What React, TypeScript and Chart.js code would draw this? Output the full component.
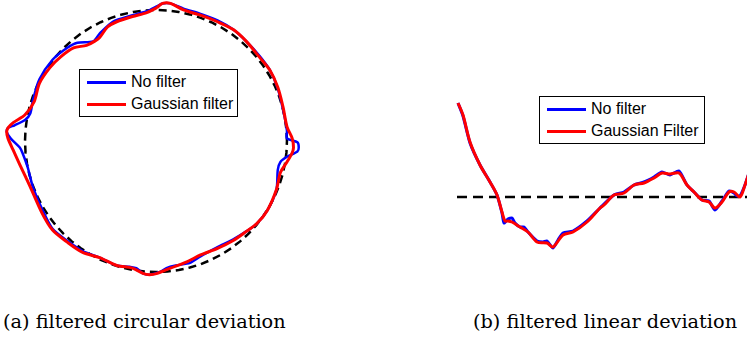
import React, { useEffect, useRef } from "react";
import { Chart, registerables } from "chart.js";

Chart.register(...registerables);

// ---------- Panel (a): circular deviation (normalised units, nominal radius = 1) ----------
const noFilterCircX = [0.01, 0.05, 0.11, 0.21, 0.34, 0.47, 0.59, 0.69, 0.79, 0.87, 0.93, 0.97, 1.0, 1.0, 1.08, 1.09, 1.08, 1.0, 0.95, 0.93, 0.92, 0.85, 0.77, 0.69, 0.59, 0.47, 0.34, 0.26, 0.15, 0.08, 0.03, -0.05, -0.1, -0.15, -0.2, -0.3, -0.43, -0.56, -0.68, -0.79, -0.86, -0.94, -0.98, -1.02, -1.04, -1.11, -1.14, -1.13, -1.08, -1.0, -0.96, -0.94, -0.89, -0.79, -0.68, -0.6, -0.48, -0.43, -0.33, -0.18, -0.07, 0.01];
const noFilterCircY = [1.03, 1.05, 1.05, 1.01, 0.97, 0.92, 0.85, 0.76, 0.65, 0.54, 0.4, 0.24, 0.08, 0.02, -0.01, -0.05, -0.08, -0.12, -0.16, -0.22, -0.37, -0.53, -0.63, -0.69, -0.75, -0.81, -0.88, -0.93, -0.95, -0.97, -1.0, -1.02, -1.01, -0.97, -0.96, -0.95, -0.89, -0.84, -0.76, -0.67, -0.54, -0.35, -0.2, -0.09, -0.05, 0.02, 0.07, 0.1, 0.12, 0.16, 0.21, 0.31, 0.47, 0.62, 0.71, 0.75, 0.76, 0.82, 0.91, 0.96, 0.99, 1.03];

const gaussCircX = [0.01, 0.05, 0.11, 0.21, 0.34, 0.47, 0.59, 0.69, 0.79, 0.87, 0.93, 0.97, 1.0, 1.04, 1.05, 1.04, 1.0, 0.95, 0.92, 0.85, 0.77, 0.69, 0.59, 0.47, 0.34, 0.24, 0.11, 0.01, -0.05, -0.1, -0.18, -0.3, -0.43, -0.56, -0.68, -0.79, -0.87, -0.96, -1.04, -1.09, -1.13, -1.14, -1.13, -1.09, -1.0, -0.93, -0.89, -0.81, -0.73, -0.63, -0.53, -0.47, -0.43, -0.37, -0.3, -0.18, -0.07, 0.01];
const gaussCircY = [1.02, 1.05, 1.05, 1.0, 0.96, 0.91, 0.85, 0.76, 0.64, 0.54, 0.41, 0.26, 0.11, 0.02, -0.05, -0.09, -0.16, -0.24, -0.37, -0.53, -0.63, -0.69, -0.76, -0.82, -0.87, -0.92, -0.97, -1.01, -1.02, -1.01, -0.97, -0.95, -0.89, -0.85, -0.77, -0.68, -0.55, -0.35, -0.18, -0.07, 0.02, 0.07, 0.1, 0.14, 0.2, 0.3, 0.44, 0.56, 0.64, 0.71, 0.73, 0.76, 0.79, 0.87, 0.91, 0.95, 0.98, 1.02];

const nominalRadius = 1;
const referenceAnglesDeg = Array.from({ length: 73 }, (_, i) => i * 5);

// ---------- Panel (b): linear deviation ----------
const noFilterLinX = [0, 5, 12, 22, 32, 39, 44, 46, 50, 54, 57, 62, 66, 70, 79, 85, 89, 95, 100, 105, 115, 129, 142, 156, 166, 176, 186, 196, 204, 212, 221, 229, 236, 244, 251, 257, 264, 271, 276, 279, 282, 287, 292];
const noFilterLinY = [9.4, 8.1, 5.4, 3.2, 1.5, 0.2, -1.6, -2.6, -2.2, -2.1, -2.6, -3.0, -3.0, -3.5, -4.4, -4.5, -4.4, -5.1, -4.3, -3.6, -3.4, -2.4, -1.1, 0.2, 0.5, 1.2, 1.5, 2.0, 2.5, 2.2, 2.6, 1.2, 0.5, -0.3, -0.4, -1.3, -0.4, 0.6, 0.4, 0.1, 0.1, 1.2, 2.7];

const gaussLinX = [0, 5, 12, 22, 32, 39, 44, 47, 50, 54, 62, 70, 79, 89, 95, 105, 115, 129, 142, 146, 156, 166, 176, 186, 196, 204, 212, 221, 229, 236, 244, 251, 257, 264, 271, 276, 282, 287, 292];
const gaussLinY = [9.4, 8.2, 5.5, 3.2, 1.5, 0.2, -1.5, -2.4, -2.4, -2.5, -3.0, -3.5, -4.5, -4.6, -5.0, -3.8, -3.5, -2.5, -1.1, -0.8, 0.2, 0.4, 1.2, 1.4, 1.9, 2.4, 2.3, 2.4, 1.2, 0.5, -0.3, -0.5, -1.1, -0.5, 0.5, 0.5, 0.0, 1.2, 2.7];

const referenceLevel = 0;
const referenceLineX = [-1, 300];

const legendA = ["No filter", "Gaussian filter"];
const legendB = ["No filter", "Gaussian Filter"];
const captionA = "(a) filtered circular deviation";
const captionB = "(b) filtered linear deviation";

const BLUE = "#0000ff";
const RED = "#ff0000";

const zip = (xs: number[], ys: number[]) => xs.map((x, i) => ({ x, y: ys[i] }));

function baseOptions(xMin: number, xMax: number, yMin: number, yMax: number): any {
  return {
    animation: false,
    responsive: false,
    maintainAspectRatio: false,
    layout: { padding: 0 },
    plugins: { legend: { display: false }, tooltip: { enabled: false }, title: { display: false } },
    elements: { point: { radius: 0 } },
    scales: {
      x: { type: "linear", min: xMin, max: xMax, display: false },
      y: { type: "linear", min: yMin, max: yMax, display: false },
    },
  };
}

function PanelA() {
  const ref = useRef<HTMLCanvasElement>(null);
  useEffect(() => {
    const refCircle = referenceAnglesDeg.map((a) => ({
      x: nominalRadius * Math.cos((a * Math.PI) / 180),
      y: nominalRadius * Math.sin((a * Math.PI) / 180),
    }));
    const chart = new Chart(ref.current!, {
      type: "scatter",
      data: {
        datasets: [
          { data: zip(gaussCircX, gaussCircY), showLine: true, borderColor: RED, borderWidth: 3, tension: 0.3, order: 0, pointRadius: 0 },
          { data: zip(noFilterCircX, noFilterCircY), showLine: true, borderColor: BLUE, borderWidth: 2.5, tension: 0.25, order: 1, pointRadius: 0 },
          { data: refCircle, showLine: true, borderColor: "#000", borderWidth: 2.5, borderDash: [8, 5], tension: 0, order: 2, pointRadius: 0 },
        ],
      },
      options: baseOptions(-1.191, 1.176, -1.099, 1.076),
    });
    return () => chart.destroy();
  }, []);
  return <canvas ref={ref} width={310} height={285} style={{ position: "absolute", left: 0, top: 0, width: 310, height: 285 }} />;
}

function PanelB() {
  const ref = useRef<HTMLCanvasElement>(null);
  useEffect(() => {
    const chart = new Chart(ref.current!, {
      type: "scatter",
      data: {
        datasets: [
          { data: zip(gaussLinX, gaussLinY), showLine: true, borderColor: RED, borderWidth: 3, tension: 0.3, order: 0, pointRadius: 0 },
          { data: zip(noFilterLinX, noFilterLinY), showLine: true, borderColor: BLUE, borderWidth: 3, tension: 0.2, order: 1, pointRadius: 0 },
          { data: referenceLineX.map((x) => ({ x, y: referenceLevel })), showLine: true, borderColor: "#000", borderWidth: 2.5, borderDash: [10, 6], order: 2, pointRadius: 0 },
        ],
      },
      options: baseOptions(-8, 289, -7.3, 11.7),
    });
    return () => chart.destroy();
  }, []);
  return <canvas ref={ref} width={297} height={190} style={{ position: "absolute", left: 450, top: 80, width: 297, height: 190 }} />;
}

function Legend({ left, top, width, labels }: { left: number; top: number; width: number; labels: string[] }) {
  const colors = [BLUE, RED];
  return (
    <div
      style={{
        position: "absolute",
        left,
        top,
        width,
        height: 48,
        boxSizing: "border-box",
        border: "1px solid #000",
        background: "#fff",
        fontFamily: "'Liberation Sans', Arial, Helvetica, sans-serif",
        fontSize: 16,
        color: "#000",
      }}
    >
      {labels.map((l, i) => (
        <div key={l} style={{ position: "absolute", left: 0, top: 12 + i * 22 - 10, height: 20, width: "100%" }}>
          <div style={{ position: "absolute", left: 7, top: 9, width: 39, height: 3, background: colors[i] }} />
          <div style={{ position: "absolute", left: 51, top: 0, lineHeight: "20px", whiteSpace: "nowrap" }}>{l}</div>
        </div>
      ))}
    </div>
  );
}

const captionStyle: React.CSSProperties = {
  position: "absolute",
  top: 312,
  height: 20,
  lineHeight: "20px",
  fontFamily: "'DejaVu Serif', serif",
  fontSize: 19.3,
  color: "#000",
  whiteSpace: "nowrap",
};

export default function App() {
  return (
    <div style={{ position: "absolute", left: 0, top: 0, width: 747, height: 338, background: "#fff", overflow: "hidden" }}>
      <PanelA />
      <PanelB />
      <Legend left={79} top={69} width={159} labels={legendA} />
      <Legend left={539} top={96} width={166} labels={legendB} />
      <div style={{ ...captionStyle, left: 3 }}>{captionA}</div>
      <div style={{ ...captionStyle, left: 473 }}>{captionB}</div>
    </div>
  );
}
